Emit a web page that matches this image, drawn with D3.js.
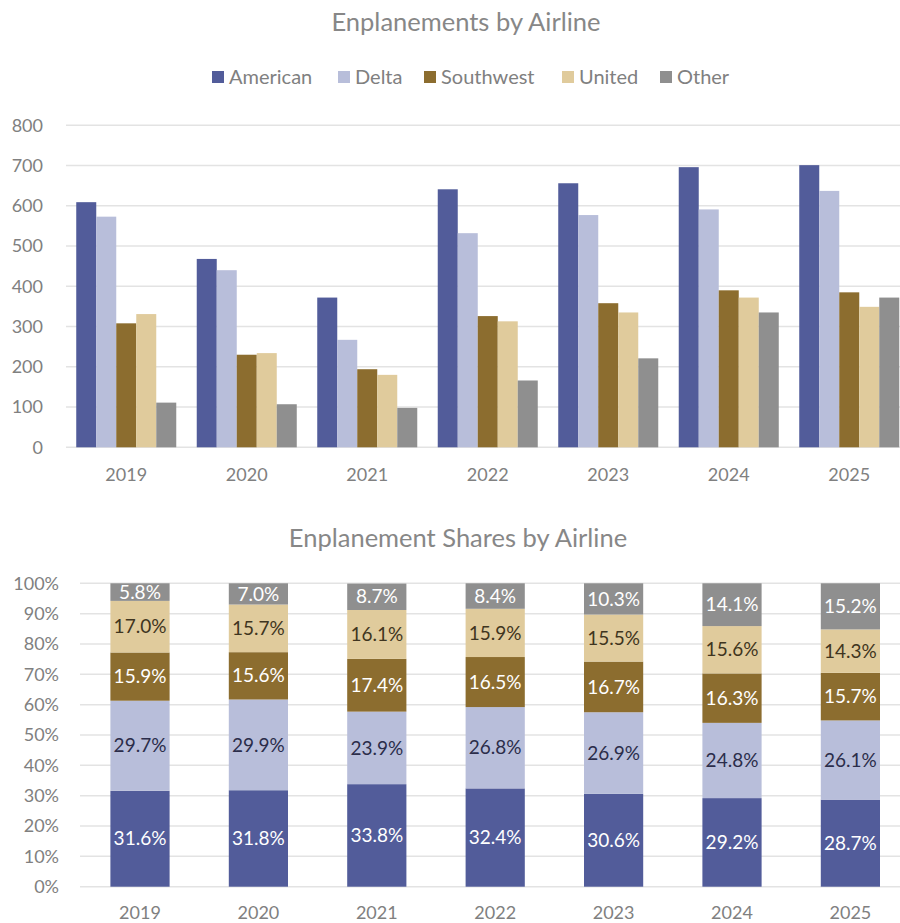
<!DOCTYPE html>
<html>
<head>
<meta charset="utf-8">
<script src="https://cdn.jsdelivr.net/npm/d3@7"></script>
<style>
  body { margin: 0; background: #fff; }
  svg { display: block; font-family: Lato, "Open Sans", sans-serif; }
</style>
</head>
<body>
<div id="chart"></div>
<script>
// data
const years = ["2019", "2020", "2021", "2022", "2023", "2024", "2025"]
const airlines = ["American", "Delta", "Southwest", "United", "Other"]
const colors = ["#525C9A", "#B8BEDA", "#8C6D2F", "#E0CB9C", "#8F8F8F"]
const labelColors = ["#ffffff", "#2B2D4A", "#ffffff", "#3F3520", "#ffffff"]

// enplanements
const american = [609, 468, 372, 641, 656, 696, 701]
const delta = [573, 440, 267, 532, 577, 591, 637]
const southwest = [308, 230, 194, 326, 358, 390, 385]
const united = [331, 234, 180, 313, 335, 372, 349]
const other = [111, 107, 98, 166, 221, 335, 372]
const yTicks = [0, 100, 200, 300, 400, 500, 600, 700, 800]

// shares (%)
const shareAmerican = [31.6, 31.8, 33.8, 32.4, 30.6, 29.2, 28.7]
const shareDelta = [29.7, 29.9, 23.9, 26.8, 26.9, 24.8, 26.1]
const shareSouthwest = [15.9, 15.6, 17.4, 16.5, 16.7, 16.3, 15.7]
const shareUnited = [17.0, 15.7, 16.1, 15.9, 15.5, 15.6, 14.3]
const shareOther = [5.8, 7.0, 8.7, 8.4, 10.3, 14.1, 15.2]
const pctTicks = [0, 10, 20, 30, 40, 50, 60, 70, 80, 90, 100]

const values = [american, delta, southwest, united, other]
const shares = [shareAmerican, shareDelta, shareSouthwest, shareUnited, shareOther]

const width = 900, height = 923
const gray = "#808080", titleGray = "#878787", gridColor = "#E3E3E3"

var svg = d3.select("#chart").append("svg")
  .attr("width", width)
  .attr("height", height)

// ---------- top chart: clustered bars ----------
svg.append("text")
  .attr("x", 466).attr("y", 31)
  .attr("text-anchor", "middle")
  .style("font-size", "25.5px")
  .style("fill", titleGray)
  .text("Enplanements by Airline")

// legend
let legend = svg.append("g").attr("class", "legend")
let legendX = [212, 338, 424, 562, 660]
airlines.forEach((name, i) => {
  legend.append("rect")
    .attr("x", legendX[i]).attr("y", 71)
    .attr("width", 12).attr("height", 12)
    .attr("fill", colors[i])
  legend.append("text")
    .attr("x", legendX[i] + 17).attr("y", 77)
    .attr("dy", "0.35em")
    .style("font-size", "20px")
    .style("fill", gray)
    .text(name)
})

var x0 = d3.scaleBand()
  .domain(years)
  .range([66, 909.5])
  .paddingInner(0.17)
  .paddingOuter(0.085)

var x1 = d3.scaleBand()
  .domain(airlines)
  .range([0, x0.bandwidth()])

var y = d3.scaleLinear()
  .domain([0, 800])
  .range([447.3, 125.3])

svg.append("g").selectAll("line")
  .data(yTicks)
  .enter().append("line")
  .attr("x1", 66).attr("x2", width)
  .attr("y1", d => y(d)).attr("y2", d => y(d))
  .attr("stroke", gridColor)
  .attr("stroke-width", 1.5)

svg.append("g").selectAll("text")
  .data(yTicks)
  .enter().append("text")
  .attr("x", 43).attr("y", d => y(d))
  .attr("dy", "0.35em")
  .attr("text-anchor", "end")
  .style("font-size", "18px")
  .style("fill", gray)
  .text(d => d)

let groups = svg.append("g").selectAll("g")
  .data(years)
  .enter().append("g")
  .attr("transform", d => "translate(" + x0(d) + ",0)")

groups.selectAll("rect")
  .data((d, i) => airlines.map((a, j) => ({ name: a, value: values[j][i], idx: j })))
  .enter().append("rect")
  .attr("x", d => x1(d.name))
  .attr("y", d => y(d.value))
  .attr("width", x1.bandwidth())
  .attr("height", d => y(0) - y(d.value))
  .attr("fill", d => colors[d.idx])

svg.append("g").selectAll("text")
  .data(years)
  .enter().append("text")
  .attr("x", d => x0(d) + x0.bandwidth() / 2)
  .attr("y", 481)
  .attr("text-anchor", "middle")
  .style("font-size", "18px")
  .style("fill", gray)
  .text(d => d)

// ---------- bottom chart: 100% stacked ----------
svg.append("text")
  .attr("x", 458).attr("y", 547)
  .attr("text-anchor", "middle")
  .style("font-size", "25.5px")
  .style("fill", titleGray)
  .text("Enplanement Shares by Airline")

var xs = d3.scaleBand()
  .domain(years)
  .range([80.8, 909.6])
  .paddingInner(0.5)
  .paddingOuter(0.25)

var ys = d3.scaleLinear()
  .domain([0, 100])
  .range([886.7, 583.3])

svg.append("g").selectAll("line")
  .data(pctTicks)
  .enter().append("line")
  .attr("x1", 80).attr("x2", width)
  .attr("y1", d => ys(d)).attr("y2", d => ys(d))
  .attr("stroke", gridColor)
  .attr("stroke-width", 1.5)

svg.append("g").selectAll("text")
  .data(pctTicks)
  .enter().append("text")
  .attr("x", 59).attr("y", d => ys(d))
  .attr("dy", "0.35em")
  .attr("text-anchor", "end")
  .style("font-size", "18px")
  .style("fill", gray)
  .text(d => d + "%")

let table = years.map((yr, i) => {
  let row = { year: yr }
  airlines.forEach((a, j) => row[a] = shares[j][i])
  return row
})
let stacked = d3.stack().keys(airlines)(table)

let layers = svg.append("g").selectAll("g")
  .data(stacked)
  .enter().append("g")

layers.selectAll("rect")
  .data(d => d)
  .enter().append("rect")
  .attr("x", d => xs(d.data.year))
  .attr("y", d => ys(d[1]))
  .attr("width", xs.bandwidth())
  .attr("height", d => ys(d[0]) - ys(d[1]))
  .attr("fill", function () { return colors[airlines.indexOf(d3.select(this.parentNode).datum().key)] })

layers.each(function (layer, j) {
  d3.select(this).selectAll("text")
    .data(layer)
    .enter().append("text")
    .attr("x", d => xs(d.data.year) + xs.bandwidth() / 2)
    .attr("y", d => ys((d[0] + d[1]) / 2))
    .attr("dy", "0.35em")
    .attr("text-anchor", "middle")
    .style("font-size", "19px")
    .style("fill", labelColors[j])
    .text(d => d.data[layer.key].toFixed(1) + "%")
})

svg.append("g").selectAll("text")
  .data(years)
  .enter().append("text")
  .attr("x", d => xs(d) + xs.bandwidth() / 2)
  .attr("y", 919)
  .attr("text-anchor", "middle")
  .style("font-size", "18px")
  .style("fill", gray)
  .text(d => d)
</script>
</body>
</html>
